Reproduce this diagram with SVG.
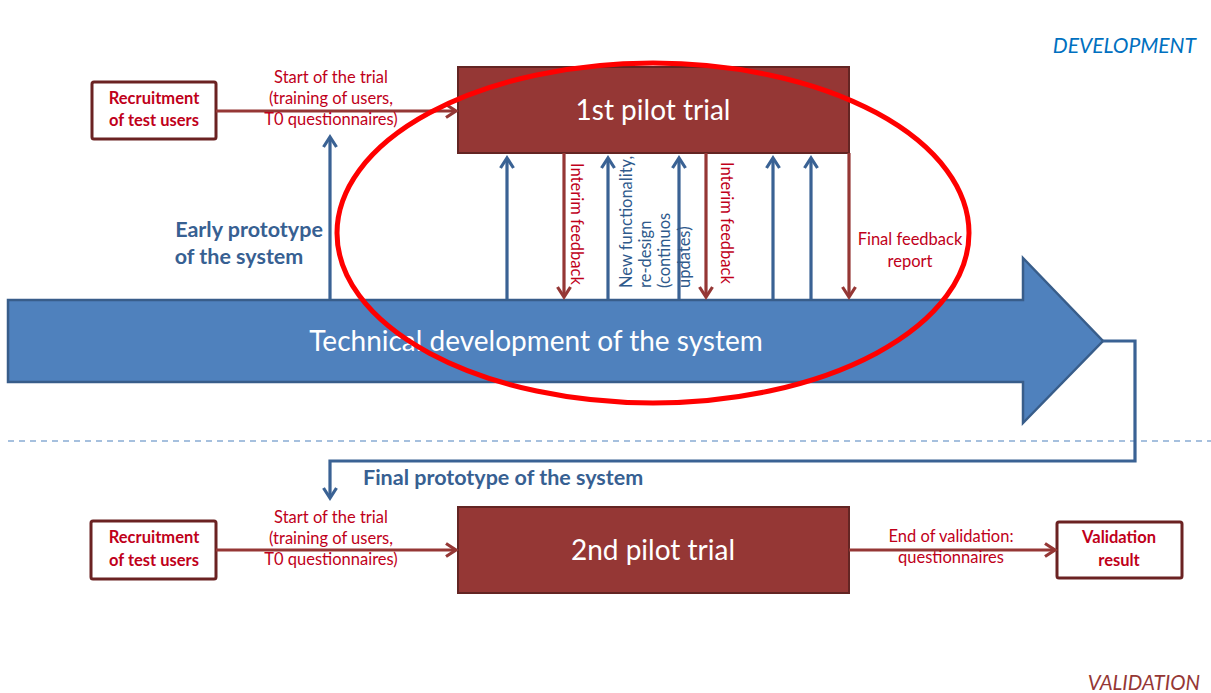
<svg xmlns="http://www.w3.org/2000/svg" width="1211" height="693" viewBox="0 0 1211 693">
<defs>
<style>
text{font-family:Lato,"Liberation Sans",sans-serif}
.red{fill:#c0001a;font-size:16.5px}
.blue{fill:#2f5a8c;font-size:16.5px}
.bold{font-weight:bold}
.box{fill:#fff;stroke:#6b2222;stroke-width:3}
.pilot{fill:#953735;stroke:#632523;stroke-width:2}
.rl{stroke:#953735;stroke-width:3.2;fill:none}
.bl{stroke:#3a6294;stroke-width:3.2;fill:none}
</style>
<marker id="ra" viewBox="0 0 16 16" refX="13" refY="8" markerWidth="16" markerHeight="16" markerUnits="userSpaceOnUse" orient="auto">
<path d="M3,1.5 L13,8 L3,14.5" fill="none" stroke="#953735" stroke-width="3.2"/>
</marker>
<marker id="ba" viewBox="0 0 16 16" refX="13" refY="8" markerWidth="16" markerHeight="16" markerUnits="userSpaceOnUse" orient="auto">
<path d="M3,1.5 L13,8 L3,14.5" fill="none" stroke="#3a6294" stroke-width="3.2"/>
</marker>
</defs>
<rect width="1211" height="693" fill="#fff"/>

<text x="1196" y="53" text-anchor="end" font-style="italic" font-size="21" fill="#0070c0">DEVELOPMENT</text>
<text x="1200" y="690" text-anchor="end" font-style="italic" font-size="20.5" fill="#953735">VALIDATION</text>

<line x1="8" y1="441" x2="1211" y2="441" stroke="#4f81bd" stroke-width="1.2" stroke-dasharray="6,5"/>

<g id="main-arrow">
<path d="M8,300 L1023,300 L1023,258 L1103,341 L1023,423 L1023,382 L8,382 Z" fill="#4f81bd" stroke="#385d8a" stroke-width="2.5"/>
<text x="536" y="351" text-anchor="middle" font-size="28" fill="#fff">Technical development of the system</text>
</g>

<g id="recruit1">
<rect class="box" x="92" y="82" width="124" height="57" rx="2"/>
<text class="red bold" x="154" y="104" text-anchor="middle">Recruitment</text>
<text class="red bold" x="154" y="126" text-anchor="middle">of test users</text>
</g>

<g id="pilot1">
<rect class="pilot" x="458" y="67" width="391" height="86"/>
<text x="653" y="120" text-anchor="middle" font-size="28" fill="#fff">1st pilot trial</text>
</g>

<g id="recruit2">
<rect class="box" x="91" y="521" width="125" height="58" rx="2"/>
<text class="red bold" x="154" y="543" text-anchor="middle">Recruitment</text>
<text class="red bold" x="154" y="566" text-anchor="middle">of test users</text>
</g>

<g id="pilot2">
<rect class="pilot" x="458" y="507" width="391" height="86"/>
<text x="653" y="560" text-anchor="middle" font-size="28" fill="#fff">2nd pilot trial</text>
</g>

<g id="validation">
<rect class="box" x="1057" y="522" width="125" height="56" rx="2"/>
<text class="red bold" x="1119" y="543" text-anchor="middle">Validation</text>
<text class="red bold" x="1119" y="566" text-anchor="middle">result</text>
</g>

<g id="connectors">
<line class="rl" x1="216" y1="111" x2="456" y2="111" marker-end="url(#ra)"/>
<line class="rl" x1="216" y1="550" x2="456" y2="550" marker-end="url(#ra)"/>
<line class="rl" x1="849" y1="550" x2="1055" y2="550" marker-end="url(#ra)"/>

<line class="bl" x1="330" y1="299" x2="330" y2="137" marker-end="url(#ba)"/>
<line class="bl" x1="507" y1="299" x2="507" y2="158" marker-end="url(#ba)"/>
<line class="bl" x1="608" y1="299" x2="608" y2="158" marker-end="url(#ba)"/>
<line class="bl" x1="679" y1="299" x2="679" y2="158" marker-end="url(#ba)"/>
<line class="bl" x1="773" y1="299" x2="773" y2="158" marker-end="url(#ba)"/>
<line class="bl" x1="811" y1="299" x2="811" y2="158" marker-end="url(#ba)"/>
<line class="rl" x1="564" y1="153" x2="564" y2="297" marker-end="url(#ra)"/>
<line class="rl" x1="706" y1="153" x2="706" y2="297" marker-end="url(#ra)"/>
<line class="rl" x1="849" y1="153" x2="849" y2="297" marker-end="url(#ra)"/>

<polyline class="bl" points="1103,341 1135,341 1135,461 330,461 330,498" marker-end="url(#ba)"/>

<text class="red" x="331" y="83" text-anchor="middle">Start of the trial</text>
<text class="red" x="331" y="104" text-anchor="middle">(training of users,</text>
<text class="red" x="331" y="125" text-anchor="middle">T0 questionnaires)</text>

<text class="red" x="331" y="523" text-anchor="middle">Start of the trial</text>
<text class="red" x="331" y="544" text-anchor="middle">(training of users,</text>
<text class="red" x="331" y="565" text-anchor="middle">T0 questionnaires)</text>

<text class="red" x="951" y="542" text-anchor="middle">End of validation:</text>
<text class="red" x="951" y="563" text-anchor="middle">questionnaires</text>

<text class="red" x="910" y="245" text-anchor="middle">Final feedback</text>
<text class="red" x="910" y="267" text-anchor="middle">report</text>

<text class="red" transform="translate(571,163) rotate(90)">Interim feedback</text>
<text class="red" transform="translate(721,162) rotate(90)">Interim feedback</text>

<text class="blue" transform="translate(632,288) rotate(-90)">New functionality,<tspan x="0" dy="19">re-design</tspan><tspan x="0" dy="19">(continuos</tspan><tspan x="0" dy="20">updates)</tspan></text>

<text class="bold" x="249" y="237" text-anchor="middle" font-size="21.5" fill="#376092">Early prototype</text>
<text class="bold" x="239" y="264" text-anchor="middle" font-size="21.5" fill="#376092">of the system</text>
<text class="bold" x="363" y="485" font-size="21.5" fill="#376092">Final prototype of the system</text>
</g>

<ellipse cx="653" cy="233" rx="316" ry="170" fill="none" stroke="#ff0000" stroke-width="5"/>
</svg>
